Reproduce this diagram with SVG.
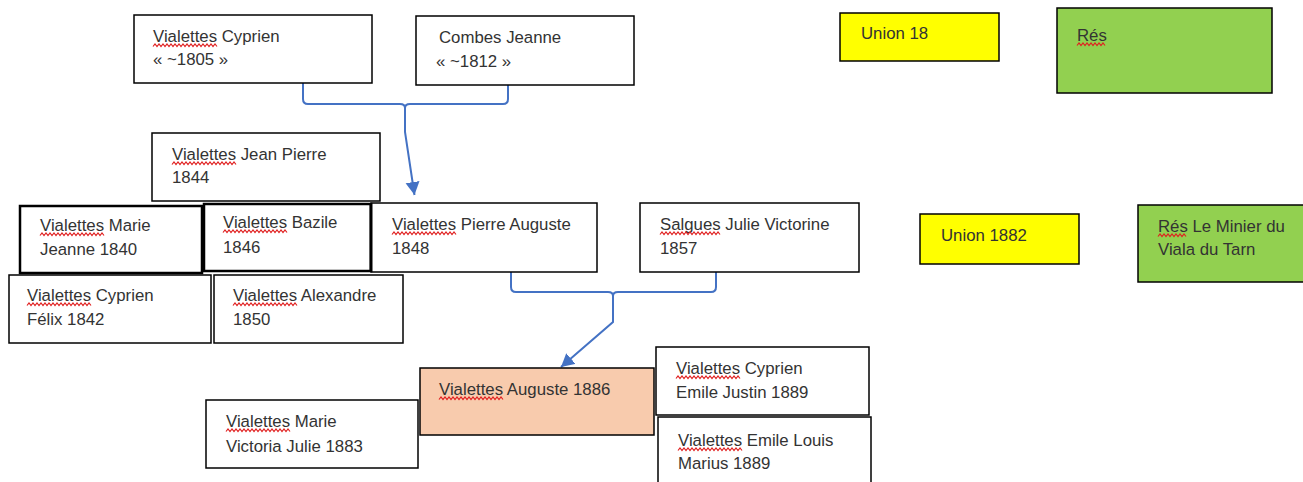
<svg xmlns="http://www.w3.org/2000/svg" width="1303" height="482" viewBox="0 0 1303 482">
<style>
.box{fill:#fff;stroke:#000;stroke-width:1.5}
.thick{stroke-width:2.5}
.orange{fill:#F8CBAD}
.yellow{fill:#FFFF00}
.green{fill:#92D050}
text{font-family:"Liberation Sans",Arial,sans-serif;font-size:16.8px;fill:#333}
.sq{fill:none;stroke:#e02020;stroke-width:1.2}
.conn{fill:none;stroke:#4472C4;stroke-width:2}
</style>
<defs>
<marker id="arr" markerUnits="userSpaceOnUse" markerWidth="16" markerHeight="16" refX="13" refY="7" orient="auto">
<path d="M0,0 L13,7 L0,14 z" fill="#4472C4"/>
</marker>
<path id="sqV" class="sq" d="M0,2.5 l2,-2.5 l2,2.5 l2,-2.5 l2,2.5 l2,-2.5 l2,2.5 l2,-2.5 l2,2.5 l2,-2.5 l2,2.5 l2,-2.5 l2,2.5 l2,-2.5 l2,2.5 l2,-2.5 l2,2.5 l2,-2.5 l2,2.5 l2,-2.5 l2,2.5 l2,-2.5 l2,2.5 l2,-2.5 l2,2.5 l2,-2.5 l2,2.5 l2,-2.5 l2,2.5 l2,-2.5 l2,2.5 l2,-2.5 l2,2.5"/>
<path id="sqS" class="sq" d="M0,2.5 l2,-2.5 l2,2.5 l2,-2.5 l2,2.5 l2,-2.5 l2,2.5 l2,-2.5 l2,2.5 l2,-2.5 l2,2.5 l2,-2.5 l2,2.5 l2,-2.5 l2,2.5 l2,-2.5 l2,2.5 l2,-2.5 l2,2.5 l2,-2.5 l2,2.5 l2,-2.5 l2,2.5 l2,-2.5 l2,2.5 l2,-2.5 l2,2.5 l2,-2.5 l2,2.5 l2,-2.5 l2,2.5"/>
<path id="sqR" class="sq" d="M0,2.5 l2,-2.5 l2,2.5 l2,-2.5 l2,2.5 l2,-2.5 l2,2.5 l2,-2.5 l2,2.5 l2,-2.5 l2,2.5 l2,-2.5 l2,2.5 l2,-2.5 l2,2.5"/>
</defs>

<g id="connectors">
<path class="conn" d="M303,83 V99 Q303,104 308,104 H400 Q405,104 405,108 Q405,104 410,104 H503 Q508,104 508,99 V85"/>
<path class="conn" d="M405,106 V132 L414.5,195" marker-end="url(#arr)"/>
<path class="conn" d="M511,272 V287 Q511,292 516,292 H608 Q613,292 613,296 Q613,292 618,292 H711 Q716,292 716,287 V272"/>
<path class="conn" d="M613,294 V322 L561,367" marker-end="url(#arr)"/>
</g>

<g id="n_cyprien1805">
<rect class="box" x="134" y="15" width="238" height="68"/>
<text x="153" y="42">Vialettes Cyprien</text>
<text x="153" y="65">« ~1805 »</text>
<use href="#sqV" x="153" y="44"/>
</g>
<g id="n_combes">
<rect class="box" x="416" y="16" width="218" height="69"/>
<text x="439" y="43">Combes Jeanne</text>
<text x="436" y="67">« ~1812 »</text>
</g>
<g id="n_jeanpierre">
<rect class="box" x="152" y="133" width="228" height="68"/>
<text x="172" y="160">Vialettes Jean Pierre</text>
<text x="172" y="183">1844</text>
<use href="#sqV" x="172" y="162"/>
</g>
<g id="n_mariejeanne">
<rect class="box thick" x="20" y="206" width="182" height="67"/>
<text x="40" y="231">Vialettes Marie</text>
<text x="40" y="255">Jeanne 1840</text>
<use href="#sqV" x="40" y="233"/>
</g>
<g id="n_bazile">
<rect class="box thick" x="204" y="204" width="167" height="67"/>
<text x="223" y="228">Vialettes Bazile</text>
<text x="223" y="253">1846</text>
<use href="#sqV" x="223" y="230"/>
</g>
<g id="n_pierreauguste">
<rect class="box" x="371" y="203" width="226" height="69"/>
<line x1="371" y1="203" x2="371" y2="272" stroke="#000" stroke-width="3"/>
<text x="392" y="230">Vialettes Pierre Auguste</text>
<text x="392" y="254">1848</text>
<use href="#sqV" x="392" y="232"/>
</g>
<g id="n_salgues">
<rect class="box" x="640" y="203" width="219" height="69"/>
<text x="660" y="230">Salgues Julie Victorine</text>
<text x="660" y="254">1857</text>
<use href="#sqS" x="660" y="232"/>
</g>
<g id="n_cyprienfelix">
<rect class="box" x="9" y="275" width="202" height="68"/>
<text x="27" y="301">Vialettes Cyprien</text>
<text x="27" y="325">Félix 1842</text>
<use href="#sqV" x="27" y="303"/>
</g>
<g id="n_alexandre">
<rect class="box" x="214" y="275" width="189" height="68"/>
<text x="233" y="301">Vialettes Alexandre</text>
<text x="233" y="325">1850</text>
<use href="#sqV" x="233" y="303"/>
</g>
<g id="n_auguste1886">
<rect class="box orange" x="420" y="368" width="234" height="67"/>
<text x="439" y="395">Vialettes Auguste 1886</text>
<use href="#sqV" x="439" y="397"/>
</g>
<g id="n_cyprienemile">
<rect class="box" x="656" y="347" width="213" height="68"/>
<text x="676" y="374">Vialettes Cyprien</text>
<text x="676" y="398">Emile Justin 1889</text>
<use href="#sqV" x="676" y="376"/>
</g>
<g id="n_emilelouis">
<rect class="box" x="658" y="417" width="213" height="75"/>
<text x="678" y="446">Vialettes Emile Louis</text>
<text x="678" y="469">Marius 1889</text>
<use href="#sqV" x="678" y="448"/>
</g>
<g id="n_marievictoria">
<rect class="box" x="206" y="400" width="212" height="68"/>
<text x="226" y="427">Vialettes Marie</text>
<text x="226" y="452">Victoria Julie 1883</text>
<use href="#sqV" x="226" y="429"/>
</g>
<g id="n_union18">
<rect class="box yellow" x="840" y="13" width="159" height="48"/>
<text x="861" y="39">Union 18</text>
</g>
<g id="n_res">
<rect class="box green" x="1057" y="8" width="215" height="85"/>
<text x="1077" y="41">Rés</text>
<use href="#sqR" x="1077" y="43"/>
</g>
<g id="n_union1882">
<rect class="box yellow" x="920" y="214" width="159" height="50"/>
<text x="941" y="241">Union 1882</text>
</g>
<g id="n_resminier">
<rect class="box green" x="1138" y="205" width="175" height="77"/>
<text x="1158" y="232">Rés Le Minier du</text>
<text x="1158" y="255">Viala du Tarn</text>
<use href="#sqR" x="1158" y="234"/>
</g>
</svg>
